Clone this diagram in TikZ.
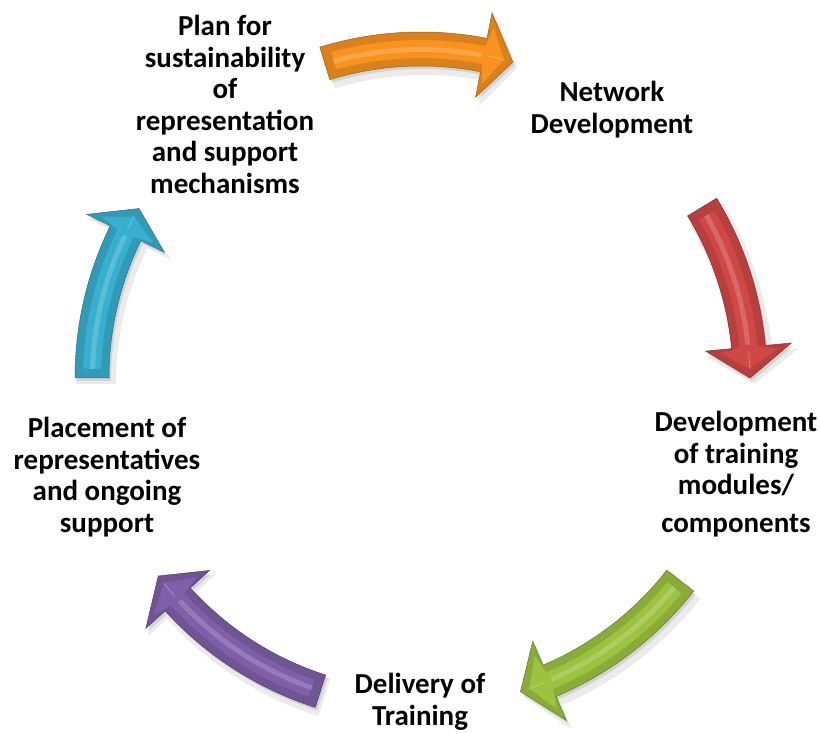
\documentclass[tikz,border=0pt]{standalone}
\usepackage{fontspec}
\setmainfont{Carlito}
\definecolor{cOrange}{HTML}{F7931E}
\definecolor{cRed}{HTML}{D04846}
\definecolor{cGreen}{HTML}{9CC23F}
\definecolor{cPurple}{HTML}{7F5FA8}
\definecolor{cBlue}{HTML}{38AFCF}
\newcommand\cycarrow[4]{% colour, tail angle, head-base angle, tip angle
  \begin{scope}[shift={(4pt,-6pt)}]
    \fill[black,opacity=.08] (#2:309pt) arc[start angle=#2,end angle=#3,radius=309pt] -- (#3:283pt) -- (#4:329pt) -- (#3:375pt) -- (#3:349pt) arc[start angle=#3,end angle=#2,radius=349pt] -- cycle;
  \end{scope}
  \begin{scope}[shift={(2pt,-3pt)}]
    \fill[black,opacity=.10] (#2:312pt) arc[start angle=#2,end angle=#3,radius=312pt] -- (#3:286pt) -- (#4:329pt) -- (#3:372pt) -- (#3:346pt) arc[start angle=#3,end angle=#2,radius=346pt] -- cycle;
  \end{scope}
  \fill[#1!88!black, draw=#1!65!black, line width=.5pt] (#2:312pt) arc[start angle=#2,end angle=#3,radius=312pt] -- (#3:286pt) -- (#4:329pt) -- (#3:372pt) -- (#3:346pt) arc[start angle=#3,end angle=#2,radius=346pt] -- cycle;
  \fill[#1] (#2-1.6:320pt) arc[start angle=#2-1.6,end angle=#3,radius=320pt] -- (#3-0.7:300pt) -- (#4+1.6:329pt) -- (#3-0.7:358pt) -- (#3:338pt) arc[start angle=#3,end angle=#2-1.6,radius=338pt] -- cycle;
  \fill[#1!70!white,opacity=.6] (#2-1.6:326pt) arc[start angle=#2-1.6,end angle=#3+0.4,radius=326pt] -- (#3+0.4:331pt) arc[start angle=#3+0.4,end angle=#2-1.6,radius=331pt] -- cycle;
  \draw[#1!60!white,line width=.7pt,opacity=.7] (#4+1.6:329pt) -- (#3-0.7:329pt);
}
\tikzset{lbl/.style={font=\fontsize{29}{31.5}\selectfont\bfseries, anchor=base, inner sep=0pt, text=black}}
\begin{document}
\begin{tikzpicture}[x=1pt,y=1pt]
\useasboundingbox (0,0) rectangle (820,734);
\fill[white] (0,0) rectangle (820,734);
\begin{scope}[shift={(421pt,356pt)}]
  \cycarrow{cOrange}{107}{79}{73.8}
  \cycarrow{cRed}{31.3}{5.4}{0}
  \cycarrow{cGreen}{-38}{-67}{-72.4}
  \cycarrow{cPurple}{-107.8}{-137.7}{-143}
  \cycarrow{cBlue}{180}{153.9}{149}
\end{scope}
\node[lbl] (plan) at (225,698) {\begin{tabular}[t]{@{}c@{}}Plan for\\sustainability\\of\\representation\\and support\\mechanisms\end{tabular}};
\node[lbl] (network) at (612,632.3) {\begin{tabular}[t]{@{}c@{}}Network\\Development\end{tabular}};
\node[lbl] (modules) at (736,302) {\begin{tabular}[t]{@{}c@{}}Development\\of training\\modules/\\[6.5pt]components\end{tabular}};
\node[lbl] (delivery) at (420,40) {\begin{tabular}[t]{@{}c@{}}Delivery of\\Training\end{tabular}};
\node[lbl] (placement) at (107,296) {\begin{tabular}[t]{@{}c@{}}Placement of\\representatives\\and ongoing\\support\end{tabular}};
\end{tikzpicture}
\end{document}
